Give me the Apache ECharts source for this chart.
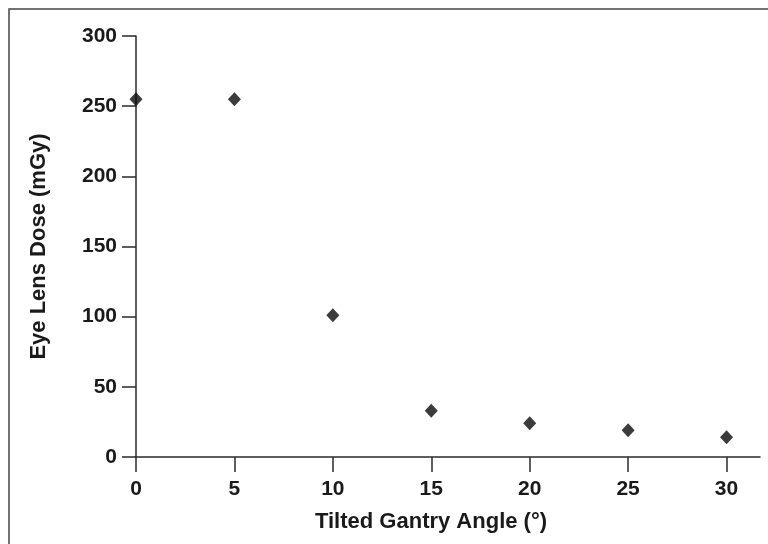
<!DOCTYPE html>
<html>
<head>
<meta charset="utf-8">
<script src="https://cdn.jsdelivr.net/npm/echarts@6/dist/echarts.min.js"></script>
<style>
	html, body {margin:0; padding:0; background:#fff;}
	#container {width:768px; height:544px;}
</style>
</head>
<body>
<div id="container"></div>
<script>
// gantry tilt (deg) vs eye lens dose (mGy)
var angles = [0, 5, 10, 15, 20, 25, 30];
var doses = [255, 255, 101, 33, 24, 19, 14];
var xTicks = [0, 5, 10, 15, 20, 25, 30];
var yTicks = [0, 50, 100, 150, 200, 250, 300];

var points = [];
for (var i = 0; i < angles.length; i++) {
	points.push([angles[i], doses[i]]);
}

var font = '"Liberation Sans", Arial, Helvetica, sans-serif';
var axisColor = '#2a2a2a';
var textColor = '#1a1a1a';

var myChart = echarts.init(document.getElementById('container'));
myChart.setOption({
	backgroundColor: '#FFFFFF',
	animation: false,
	graphic: [
		{
			type: 'rect',
			shape: {x: 9, y: 9, width: 800, height: 600},
			style: {fill: 'none', stroke: '#444444', lineWidth: 1.5},
			silent: true
		}
	],
	grid: {left: 136, right: 8, top: 36, bottom: 87},
	xAxis: {
		type: 'value',
		min: 0,
		max: 31.7,
		interval: 5,
		name: 'Tilted Gantry Angle (°)',
		nameLocation: 'middle',
		nameGap: 54,
		nameTextStyle: {
			color: textColor, fontFamily: font, fontWeight: 'bold', fontSize: 22,
			padding: [0, 34, 0, 0]
		},
		axisLine: {show: true, onZero: false, lineStyle: {color: axisColor, width: 1.5}},
		axisTick: {show: true, length: 15, customValues: xTicks, lineStyle: {color: axisColor, width: 1.5}},
		axisLabel: {
			customValues: xTicks,
			margin: 22,
			color: textColor, fontFamily: font, fontWeight: 'bold', fontSize: 21
		},
		splitLine: {show: false}
	},
	yAxis: {
		type: 'value',
		min: 0,
		max: 300,
		interval: 50,
		name: 'Eye Lens Dose (mGy)',
		nameLocation: 'middle',
		nameGap: 86,
		nameTextStyle: {color: textColor, fontFamily: font, fontWeight: 'bold', fontSize: 22},
		axisLine: {show: true, lineStyle: {color: axisColor, width: 1.5}},
		axisTick: {show: true, length: 14, lineStyle: {color: axisColor, width: 1.5}},
		axisLabel: {
			margin: 19,
			color: textColor, fontFamily: font, fontWeight: 'bold', fontSize: 21
		},
		splitLine: {show: false}
	},
	series: [
		{
			type: 'scatter',
			data: points,
			symbol: 'diamond',
			symbolSize: [13, 14],
			itemStyle: {color: '#0a0a0a'}
		}
	]
});
</script>
</body>
</html>
